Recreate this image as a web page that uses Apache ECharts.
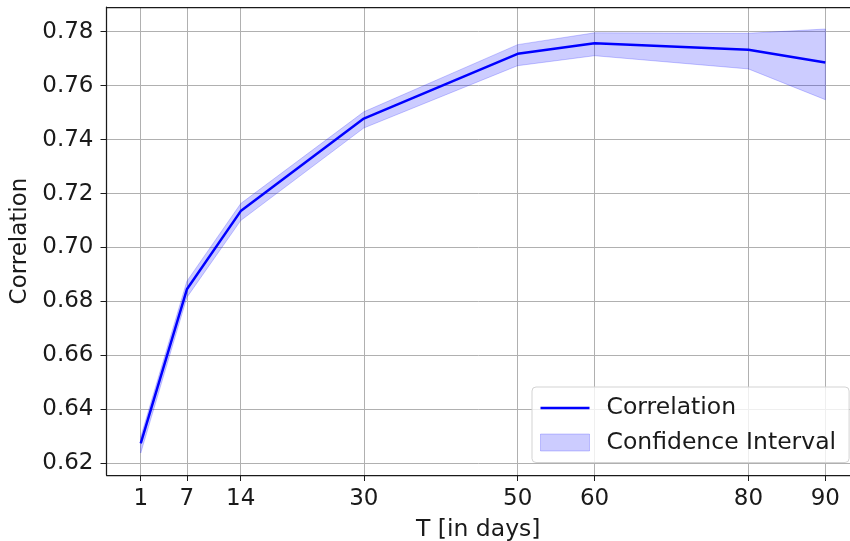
<!DOCTYPE html>
<html>
<head>
<meta charset="utf-8">
<script src="https://cdn.jsdelivr.net/npm/echarts@6/dist/echarts.min.js"></script>
<style>html,body{margin:0;padding:0;background:#fff;}#c{width:850px;height:541px;}</style>
</head>
<body>
<div id="c"></div>
<script>
const days = [1, 7, 14, 30, 50, 60, 80, 90];
const correlation = [0.6274, 0.6845, 0.7135, 0.7478, 0.7718, 0.7757, 0.7733, 0.7686];
const ciLower = [0.6238, 0.6815, 0.7100, 0.7443, 0.7674, 0.7711, 0.7662, 0.7548];
const ciUpper = [0.6298, 0.6875, 0.7163, 0.7503, 0.7752, 0.7796, 0.7794, 0.7810];
const yTicks = [0.62, 0.64, 0.66, 0.68, 0.70, 0.72, 0.74, 0.76, 0.78];

const FONT = 'DejaVu Sans';
const TXT = '#1a1a1a';
const SPINE = '#1a1a1a';
const X_MIN = -3.45, X_MAX = 93.21;
const chart = echarts.init(document.getElementById('c'), null, {renderer: 'canvas'});
chart.setOption({
  animation: false,
  backgroundColor: '#fff',
  textStyle: {fontFamily: FONT},
  grid: {left: 106.5, right: 0, top: 7, bottom: 66, containLabel: false, outerBoundsMode: 'none'},
  legend: {
    orient: 'vertical', left: 532, top: 387,
    padding: [9, 13, 8, 8], itemGap: 10.5, itemWidth: 49, itemHeight: 17,
    backgroundColor: 'rgba(255,255,255,0.8)', borderColor: '#d3d3d3', borderWidth: 1, borderRadius: 4,
    textStyle: {fontFamily: FONT, fontSize: 23.5, color: TXT, padding: [0, 0, 0, 12]},
    data: [
      {name: 'Correlation', icon: 'path://M0,0h49v2.5h-49z', itemStyle: {color: '#0000ff'}},
      {name: 'Confidence Interval', icon: 'rect', itemStyle: {color: 'rgba(0,0,255,0.2)', borderColor: 'rgba(0,0,255,0.2)', borderWidth: 1}}
    ]
  },
  xAxis: [{
    type: 'value', min: X_MIN, max: X_MAX,
    name: 'T [in days]', nameLocation: 'middle', nameGap: 43,
    nameTextStyle: {fontFamily: FONT, fontSize: 23.5, color: TXT},
    axisLine: {show: true, onZero: false, lineStyle: {color: SPINE, width: 1.25}},
    axisTick: {show: true, length: 6, lineStyle: {color: SPINE, width: 1}, customValues: days},
    axisLabel: {customValues: days, fontFamily: FONT, fontSize: 23, color: TXT, margin: 13},
    splitLine: {show: true, lineStyle: {color: '#b0b0b0', width: 1}}
  }, {
    type: 'value', position: 'top', min: X_MIN, max: X_MAX,
    axisLine: {show: true, onZero: false, lineStyle: {color: SPINE, width: 1.25}},
    axisTick: {show: false}, axisLabel: {show: false}, splitLine: {show: false}
  }],
  yAxis: {
    type: 'value', min: 0.61566, max: 0.78916,
    name: 'Correlation', nameLocation: 'middle', nameGap: 67,
    nameTextStyle: {fontFamily: FONT, fontSize: 23, color: TXT},
    axisLine: {show: true, onZero: false, lineStyle: {color: SPINE, width: 1.25}},
    axisTick: {show: true, length: 6, lineStyle: {color: SPINE, width: 1}, customValues: yTicks},
    axisLabel: {customValues: yTicks, fontFamily: FONT, fontSize: 23, color: TXT, margin: 13, formatter: v => v.toFixed(2)},
    splitLine: {show: true, lineStyle: {color: '#b0b0b0', width: 1}}
  },
  series: [
    {
      name: 'Confidence Interval', type: 'custom', coordinateSystem: 'cartesian2d',
      data: days.map((d, i) => [d, ciLower[i], ciUpper[i]]),
      encode: {x: 0, y: [1, 2]},
      itemStyle: {color: 'rgba(0,0,255,0.2)'},
      silent: true, z: 2,
      renderItem: function (params, api) {
        if (params.dataIndex !== 0) return null;
        const pts = [];
        for (let i = 0; i < days.length; i++) pts.push(api.coord([days[i], ciUpper[i]]));
        for (let i = days.length - 1; i >= 0; i--) pts.push(api.coord([days[i], ciLower[i]]));
        return {type: 'polygon', shape: {points: pts},
          style: {fill: 'rgba(0,0,255,0.2)', stroke: 'rgba(0,0,255,0.2)', lineWidth: 1}};
      }
    },
    {
      name: 'Correlation', type: 'line', symbol: 'none',
      data: days.map((d, i) => [d, correlation[i]]),
      lineStyle: {color: '#0000ff', width: 2.5},
      itemStyle: {color: '#0000ff'},
      z: 3
    }
  ]
});
</script>
</body>
</html>
